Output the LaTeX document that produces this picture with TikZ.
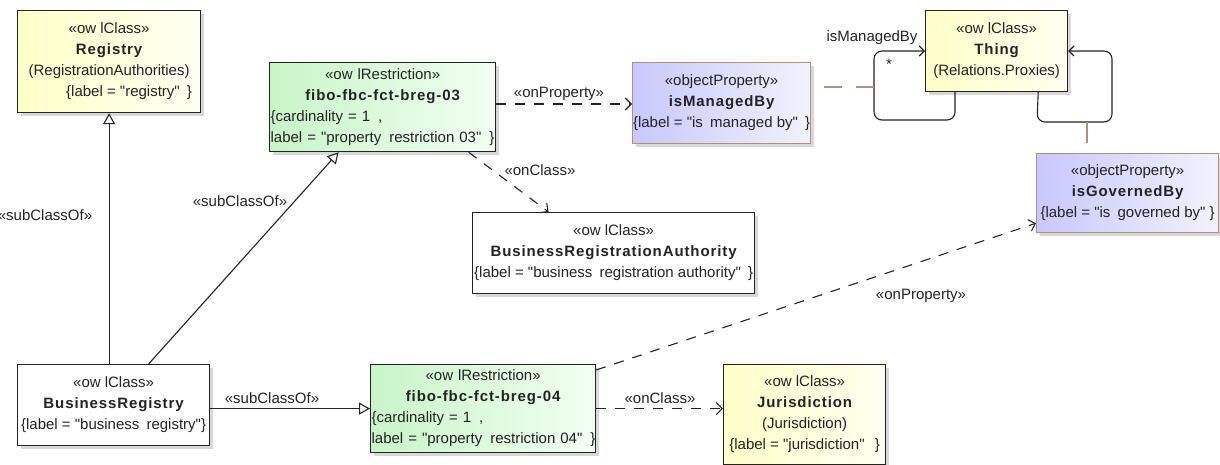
\documentclass[tikz,border=0pt]{standalone}
\usepackage{fontspec}
\setmainfont{Liberation Sans}[Ligatures=TeXOff]
\newfontfamily\boldsp[LetterSpace=6,Ligatures=TeXOff,BoldFont={Liberation Sans Bold}]{Liberation Sans}
\usetikzlibrary{arrows.meta,shadows,calc}
\definecolor{ylA}{RGB}{255,255,200}
\definecolor{ylB}{RGB}{255,255,242}
\definecolor{grA}{RGB}{200,245,200}
\definecolor{grB}{RGB}{242,255,242}
\definecolor{blA}{RGB}{200,200,255}
\definecolor{blB}{RGB}{242,242,255}
\definecolor{brn}{RGB}{176,144,120}
\definecolor{ink}{RGB}{35,35,35}
\newcommand\nm[1]{{\boldsp\bfseries #1}}
\newcommand\gp{\hspace{3pt}}
\begin{document}
\begin{tikzpicture}[x=1pt,y=-1pt,
  every node/.style={text=ink},
  umlbox/.style={draw=ink, line width=1.2pt, anchor=north west, inner sep=0pt,
    font=\fontsize{15}{21}\selectfont, align=center,
    drop shadow={shadow xshift=3.5pt,shadow yshift=-3.5pt,fill=black!30}},
  ybox/.style={umlbox, left color=ylA, right color=ylB},
  gbox/.style={umlbox, left color=grA, right color=grB},
  bbox/.style={umlbox, left color=blA, right color=blB, draw=brn},
  wbox/.style={umlbox, fill=white},
  lbl/.style={font=\fontsize{15}{17}\selectfont, inner sep=0pt},
  sub/.style={draw=ink, line width=1.1pt, -{Triangle[open,length=11pt,width=12pt]}},
  dep/.style={draw=ink, line width=1.1pt, dash pattern=on 10pt off 9pt, -{Straight Barb[length=6pt,width=12pt]}},
  loopline/.style={draw=ink, line width=1.1pt, rounded corners=8pt},
]
\clip (0,0) rectangle (1220,464);

% boxes
\node[ybox, minimum width=183, minimum height=102] (reg) at (17,10)
  {«ow lClass»\\ \nm{Registry}\\ (RegistrationAuthorities)\\ \hspace*{40pt}\{label = "registry"\gp\ \}};
\node[gbox, minimum width=226, minimum height=89, text width=224] (f03) at (269,62)
  {«ow lRestriction»\\ \nm{fibo-fbc-fct-breg-03}\\
   \makebox[224pt][l]{\{cardinality = 1\gp\ ,}\\
   \makebox[224pt][l]{label = "property\gp\ restriction 03"\gp\ \}}};
\node[bbox, minimum width=178, minimum height=81] (mb) at (632,62)
  {«objectProperty»\\ \nm{isManagedBy}\\ \{label = "is\gp\ managed by"\gp\ \}};
\node[ybox, minimum width=142, minimum height=81] (thing) at (925,10)
  {«ow lClass»\\ \nm{Thing}\\ (Relations.Proxies)};
\node[bbox, minimum width=182, minimum height=79] (gov) at (1036,153)
  {«objectProperty»\\ \nm{isGovernedBy}\\ \{label = "is\gp\ governed by" \}};
\node[wbox, minimum width=282, minimum height=81] (bra) at (472,212)
  {«ow lClass»\\ \nm{BusinessRegistrationAuthority}\\ \{label = "business\gp\ registration authority"\gp\ \}};
\node[wbox, minimum width=192, minimum height=81] (bizreg) at (17,364)
  {«ow lClass»\\ \nm{BusinessRegistry}\\ \{label = "business\gp\ registry"\}};
\node[gbox, minimum width=225, minimum height=88, text width=223] (f04) at (370,364)
  {«ow lRestriction»\\ \nm{fibo-fbc-fct-breg-04}\\
   \makebox[223pt][l]{\{cardinality = 1\gp\ ,}\\
   \makebox[223pt][l]{label = "property\gp\ restriction 04"\gp\ \}}};
\node[ybox, minimum width=162, minimum height=100] (jur) at (723,364)
  {«ow lClass»\\ \nm{Jurisdiction}\\ (Jurisdiction)\\ \{label = "jurisdiction"\gp\gp\ \}};

% generalisations
\draw[sub] (bizreg.north -| reg.south) -- (reg.south);
\draw[sub] ([xshift=35pt]bizreg.north) -- ([xshift=-44pt]f03.south);
\draw[sub] (bizreg.east |- f04.west) -- (f04.west);
\node[lbl] (s1) at (45,215) {«subClassOf»};
\node[lbl] (s2) at (240,201) {«subClassOf»};
\node[lbl] (s3) at (272,398) {«subClassOf»};

% dependencies
\draw[dep] (f03.east |- 0,104) -- (mb.west |- 0,104);
\node[lbl] (p1) at (559,94) {«onProperty»};
\draw[dep] ([xshift=86pt]f03.south) -- ([xshift=-65pt]bra.north);
\node[lbl] (c1) at (540,170) {«onClass»};
\draw[dep] ([yshift=-6pt]f04.north east) -- ([yshift=10pt]gov.south west);
\node[lbl] (p2) at (921,296) {«onProperty»};
\draw[dep] (f04.east) -- (jur.west |- f04.east);
\node[lbl] (c2) at (660,398) {«onClass»};

% self associations on Thing
\coordinate (lA) at (874,87);
\coordinate (rB) at (1087,122);
\draw[loopline, -{Straight Barb[length=5pt,width=10pt]}]
  ([xshift=30pt]thing.south west) -- (955,120) -- (874,120) -- (874,51) -- (thing.west |- 0,51);
\draw[loopline, -{Straight Barb[length=5pt,width=10pt]}]
  ([xshift=-30pt]thing.south east) -- (1037,122) -- (1112,122) -- (1112,51) -- (thing.east |- 0,51);
\node[lbl] (am) at (872,38) {isManagedBy};
\node[lbl] (st) at (889,64) {*};
\draw[draw=brn, line width=1.1pt, dash pattern=on 18pt off 14pt] (lA) -- (mb.east |- lA);
\draw[draw=brn, line width=1.1pt, dash pattern=on 21pt off 12pt] (rB) -- (gov.north -| rB);
\end{tikzpicture}
\end{document}
